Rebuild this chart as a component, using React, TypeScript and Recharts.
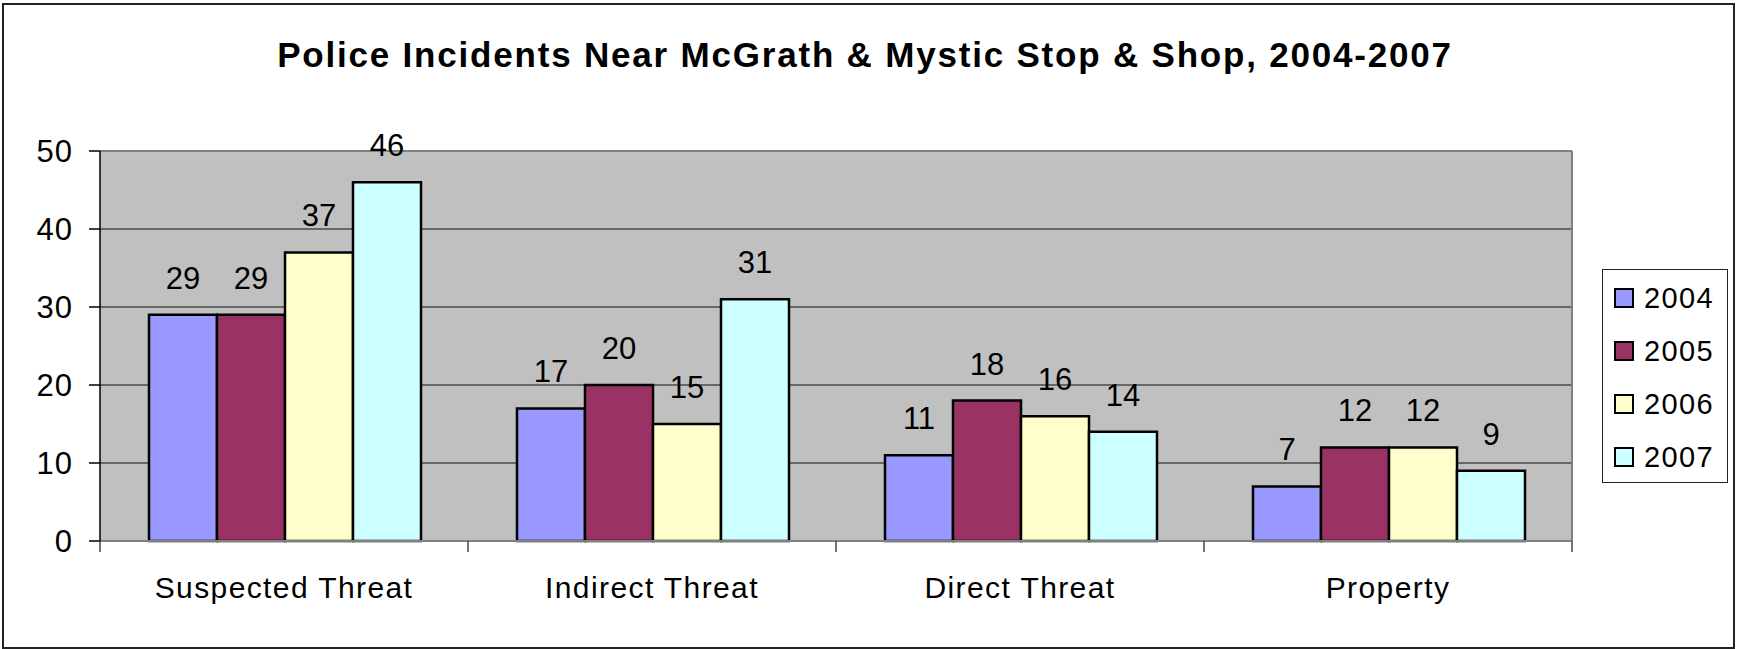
import { BarChart, Bar, XAxis, YAxis, CartesianGrid, Legend, LabelList, ReferenceLine } from "recharts";

const categories = ["Suspected Threat", "Indirect Threat", "Direct Threat", "Property"];
const years = ["2004", "2005", "2006", "2007"];
const values2004 = [29, 17, 11, 7];
const values2005 = [29, 20, 18, 12];
const values2006 = [37, 15, 16, 12];
const values2007 = [46, 31, 14, 9];
const yTicks = [0, 10, 20, 30, 40, 50];

const colors = ["#9999FF", "#993366", "#FFFFCC", "#CCFFFF"];
const FONT = "'Liberation Sans', Arial, Helvetica, sans-serif";
const TICK_SIZE = 11;
const TICK_MARGIN = 25;

const data = categories.map((name, i) => ({
  name,
  y2004: values2004[i],
  y2005: values2005[i],
  y2006: values2006[i],
  y2007: values2007[i],
}));

const CategoryTick = (props: any) => {
  const { x, y, payload, index, visibleTicksCount, width } = props;
  const half = payload && payload.offset ? payload.offset : width / visibleTicksCount / 2;
  const axisY = y - TICK_SIZE - TICK_MARGIN;
  const last = index === visibleTicksCount - 1;
  return (
    <g>
      <line x1={x - half} x2={x - half} y1={axisY} y2={axisY + TICK_SIZE} stroke="#444" strokeWidth={1.5} />
      {last && <line x1={x + half} x2={x + half} y1={axisY} y2={axisY + TICK_SIZE} stroke="#444" strokeWidth={1.5} />}
      <text x={x} y={y + 21} textAnchor="middle" fontSize={30} fontFamily={FONT} fill="#000" style={{ letterSpacing: "1.4px" }}>
        {payload.value}
      </text>
    </g>
  );
};

const ValueTick = (props: any) => {
  const { x, y, payload } = props;
  return (
    <text x={x} y={y + 11} textAnchor="end" fontSize={31} fontFamily={FONT} fill="#000" style={{ letterSpacing: "1px" }}>
      {payload.value}
    </text>
  );
};

const LegendBox = (props: any) => {
  const { payload } = props;
  return (
    <div style={{ paddingTop: 2 }}>
      {(payload || []).map((entry: any) => (
        <div key={entry.value} style={{ height: 53, position: "relative" }}>
          <div
            style={{
              position: "absolute",
              left: 11,
              top: 16,
              width: 20,
              height: 20,
              boxSizing: "border-box",
              border: "2px solid #000",
              background: entry.color,
            }}
          />
          <span
            style={{
              position: "absolute",
              left: 41,
              top: 8,
              fontSize: 29,
              lineHeight: "36px",
              fontFamily: FONT,
              color: "#000",
              letterSpacing: "1.4px",
            }}
          >
            {entry.value}
          </span>
        </div>
      ))}
    </div>
  );
};

export default function App() {
  const keys = ["y2004", "y2005", "y2006", "y2007"];
  return (
    <div style={{ position: "absolute", left: 0, top: 0, width: 1737, height: 649, background: "#fff" }}>
      <div
        style={{
          position: "absolute",
          left: 2,
          top: 3,
          width: 1733,
          height: 646,
          boxSizing: "border-box",
          border: "2px solid #222",
        }}
      />
      <svg width={1737} height={649} style={{ position: "absolute", left: 0, top: 0 }}>
        <text
          x={865}
          y={67}
          textAnchor="middle"
          fontSize={35}
          fontWeight="bold"
          fontFamily={FONT}
          fill="#000"
          style={{ letterSpacing: "1.8px" }}
        >
          Police Incidents Near McGrath &amp; Mystic Stop &amp; Shop, 2004-2007
        </text>
      </svg>
      <div style={{ position: "absolute", left: 0, top: 0 }}>
        <BarChart
          width={1737}
          height={649}
          data={data}
          margin={{ top: 151, right: 165, bottom: 48, left: 10 }}
          barCategoryGap={49}
          barGap={0}
        >
          <CartesianGrid vertical={false} fill="#C0C0C0" stroke="#111" strokeWidth={1} />
          <XAxis
            dataKey="name"
            height={60}
            axisLine={{ stroke: "#808080", strokeWidth: 2 }}
            tickLine={false}
            tickSize={TICK_SIZE}
            tickMargin={TICK_MARGIN}
            tick={<CategoryTick />}
            interval={0}
          />
          <YAxis
            width={90}
            domain={[0, 50]}
            ticks={yTicks}
            axisLine={{ stroke: "#000", strokeWidth: 1.5 }}
            tickLine={{ stroke: "#000", strokeWidth: 1.5 }}
            tickSize={TICK_SIZE}
            tickMargin={16}
            tick={<ValueTick />}
          />
          <ReferenceLine y={50} stroke="#808080" strokeWidth={2} />
          <ReferenceLine x={categories[categories.length - 1]} position="end" stroke="#808080" strokeWidth={2} />
          <Legend
            layout="vertical"
            align="center"
            verticalAlign="middle"
            content={<LegendBox />}
            wrapperStyle={{
              left: 1602,
              top: 269,
              width: 126,
              height: 214,
              boxSizing: "border-box",
              border: "1.5px solid #222",
              background: "#fff",
            }}
          />
          {keys.map((k, i) => (
            <Bar key={k} dataKey={k} name={years[i]} fill={colors[i]} stroke="#000" strokeWidth={2.5} isAnimationActive={false}>
              <LabelList dataKey={k} position="top" offset={26} fill="#000" fontSize={31} fontFamily={FONT} />
            </Bar>
          ))}
        </BarChart>
      </div>
    </div>
  );
}
